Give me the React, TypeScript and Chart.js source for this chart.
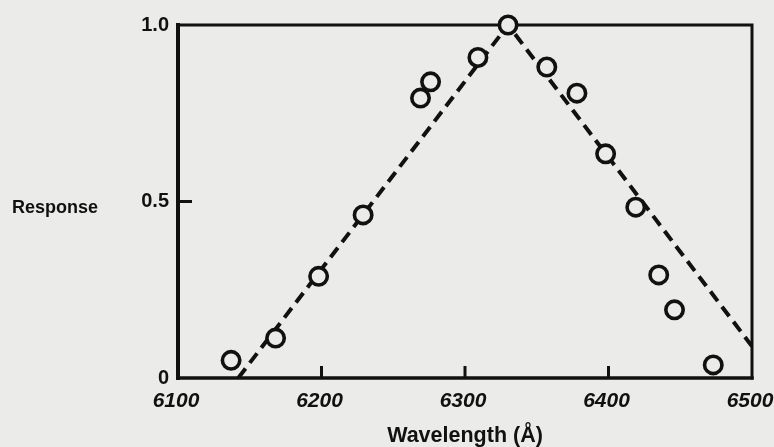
import React, { useEffect, useRef } from "react";
import { Chart, registerables } from "chart.js";

Chart.register(...registerables);

// Measured detector response
const wavelengths = [6137, 6168, 6198, 6229, 6269, 6276, 6309, 6330, 6357, 6378, 6398, 6419, 6435, 6446, 6473];
const responses = [0.05, 0.113, 0.288, 0.462, 0.793, 0.839, 0.908, 1.0, 0.881, 0.807, 0.635, 0.484, 0.292, 0.193, 0.037];

// Dashed triangular fit
const fitWavelengths = [6142, 6330, 6500];
const fitResponses = [0, 1.0, 0.09];

// Axis ticks
const xTicks = [6100, 6200, 6300, 6400, 6500];
const yTicks = [0, 0.5, 1.0];
const yTickLabels = ["0", "0.5", "1.0"];

const FONT = '"Liberation Sans", Arial, Helvetica, sans-serif';
const INK = "#111111";
const PAPER = "#ebebe9";

const framePlugin = {
  id: "frame",
  beforeDatasetsDraw(chart: any) {
    const { ctx, chartArea: a, scales } = chart;
    const x = scales.x;
    const y = scales.y;
    ctx.save();
    ctx.strokeStyle = INK;
    ctx.lineCap = "square";
    ctx.lineWidth = 3;
    ctx.beginPath();
    ctx.moveTo(a.left, a.top);
    ctx.lineTo(a.right, a.top);
    ctx.lineTo(a.right, a.bottom);
    ctx.stroke();
    ctx.lineWidth = 3.5;
    ctx.beginPath();
    ctx.moveTo(a.left, a.bottom);
    ctx.lineTo(a.right, a.bottom);
    ctx.stroke();
    ctx.lineWidth = 4;
    ctx.beginPath();
    ctx.moveTo(a.left, a.top);
    ctx.lineTo(a.left, a.bottom);
    ctx.stroke();
    ctx.lineWidth = 3;
    ctx.lineCap = "butt";
    xTicks.slice(1, -1).forEach((v) => {
      const px = x.getPixelForValue(v);
      ctx.beginPath();
      ctx.moveTo(px, a.bottom);
      ctx.lineTo(px, a.bottom - 12);
      ctx.stroke();
    });
    yTicks.slice(1, -1).forEach((v) => {
      const py = y.getPixelForValue(v);
      ctx.beginPath();
      ctx.moveTo(a.left, py);
      ctx.lineTo(a.left + 14, py);
      ctx.stroke();
    });
    ctx.fillStyle = INK;
    ctx.font = `bold 18px ${FONT}`;
    ctx.textAlign = "left";
    ctx.textBaseline = "middle";
    ctx.fillText("Response", 12, y.getPixelForValue(0.5) + 7);
    ctx.restore();
  },
};

export default function App() {
  const ref = useRef<HTMLCanvasElement | null>(null);

  useEffect(() => {
    if (!ref.current) return;
    const chart = new Chart(ref.current, {
      type: "scatter",
      data: {
        datasets: [
          {
            label: "Fit",
            type: "line",
            data: fitWavelengths.map((w, i) => ({ x: w, y: fitResponses[i] })),
            borderColor: INK,
            borderWidth: 4,
            borderDash: [12, 7],
            pointRadius: 0,
            fill: false,
            tension: 0,
            order: 2,
          } as any,
          {
            label: "Response",
            data: wavelengths.map((w, i) => ({ x: w, y: responses[i] })),
            pointStyle: "circle",
            pointRadius: 8.7,
            pointBorderWidth: 3.6,
            borderColor: INK,
            backgroundColor: PAPER,
            pointBackgroundColor: PAPER,
            pointBorderColor: INK,
            showLine: false,
            clip: false,
            order: 1,
          } as any,
        ],
      },
      options: {
        responsive: false,
        animation: false,
        layout: { padding: { top: 25, right: 22, left: 0, bottom: 0 }, autoPadding: false },
        plugins: {
          legend: { display: false },
          tooltip: { enabled: false },
        },
        scales: {
          x: {
            type: "linear",
            min: 6100,
            max: 6500,
            afterBuildTicks: (s: any) => {
              s.ticks = xTicks.map((v) => ({ value: v }));
            },
            afterFit: (s: any) => {
              s.height = 69;
              s.paddingLeft = 0;
              s.paddingRight = 0;
            },
            grid: { display: false, drawTicks: false },
            border: { display: false },
            ticks: {
              color: INK,
              padding: 13,
              maxRotation: 0,
              autoSkip: false,
              labelOffset: -2,
              font: { family: FONT, size: 21, weight: "bold", style: "italic", lineHeight: 1 },
              callback: (v: any) => String(v),
            },
            title: {
              display: true,
              text: "Wavelength (Å)",
              color: INK,
              padding: { top: 0, bottom: 0 },
              font: { family: FONT, size: 21.5, weight: "bold", lineHeight: 1 },
            },
          },
          y: {
            type: "linear",
            min: 0,
            max: 1,
            afterBuildTicks: (s: any) => {
              s.ticks = yTicks.map((v) => ({ value: v }));
            },
            afterFit: (s: any) => {
              s.width = 178;
              s.paddingTop = 0;
              s.paddingBottom = 0;
            },
            grid: { display: false, drawTicks: false },
            border: { display: false },
            ticks: {
              color: INK,
              padding: 9,
              autoSkip: false,
              font: { family: FONT, size: 20, weight: "bold", lineHeight: 1 },
              callback: (v: any) => {
                const i = yTicks.indexOf(Number(v));
                return i >= 0 ? yTickLabels[i] : "";
              },
            },
          },
        },
      } as any,
      plugins: [framePlugin],
    });
    return () => chart.destroy();
  }, []);

  return (
    <div
      style={{
        position: "fixed",
        left: 0,
        top: 0,
        width: 774,
        height: 447,
        background: PAPER,
      }}
    >
      <canvas ref={ref} width={774} height={447} style={{ display: "block" }} />
    </div>
  );
}
